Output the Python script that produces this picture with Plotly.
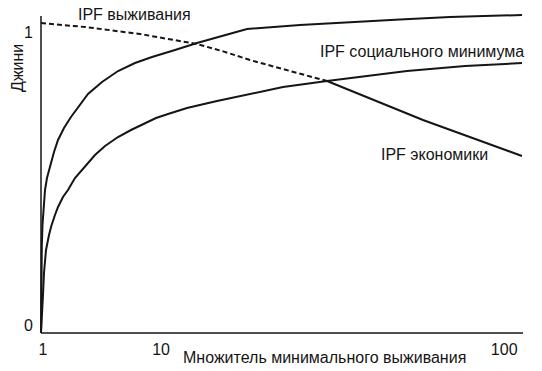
import plotly.graph_objects as go

# Horizontal position along the axis (0 = "1" tick, 1 = right end) and Gini value
econ_x = [0, 0.0004, 0.0008, 0.0017, 0.0031, 0.0052, 0.0083, 0.0124, 0.0187, 0.0270, 0.0353, 0.0477,
          0.0622, 0.0768, 0.0975, 0.1266, 0.1598, 0.1950, 0.2303, 0.2780, 0.3237, 0.3755, 0.4274,
          0.5373, 0.6411, 0.7448, 0.8485, 0.9979]
econ_y = [0, 0.1126, 0.2150, 0.3003, 0.3686, 0.4369, 0.4881, 0.5290, 0.5700, 0.6177, 0.6587, 0.6997,
          0.7372, 0.7713, 0.8157, 0.8567, 0.8942, 0.9215, 0.9420, 0.9659, 0.9898, 1.0137, 1.0375,
          1.0512, 1.0614, 1.0700, 1.0785, 1.0853]

social_x = [0, 0.0010, 0.0021, 0.0041, 0.0062, 0.0104, 0.0166, 0.0214, 0.0290, 0.0353, 0.0456, 0.0560,
            0.0705, 0.0913, 0.1120, 0.1328, 0.1598, 0.1867, 0.2116, 0.2386, 0.2635, 0.3029, 0.3651,
            0.4398, 0.5021, 0.5934, 0.6618, 0.7593, 0.8797, 0.9979]
social_y = [0, 0.0444, 0.0683, 0.1297, 0.2048, 0.2833, 0.3345, 0.3652, 0.4027, 0.4300, 0.4642, 0.4881,
            0.5290, 0.5700, 0.6075, 0.6382, 0.6689, 0.6928, 0.7133, 0.7338, 0.7474, 0.7679, 0.7918,
            0.8191, 0.8396, 0.8601, 0.8737, 0.8942, 0.9113, 0.9215]

surv_dash_x = [0, 0.0913, 0.2054, 0.3237, 0.3755, 0.4336, 0.5166, 0.5934]
surv_dash_y = [1.0580, 1.0444, 1.0205, 0.9863, 0.9625, 0.9317, 0.8942, 0.8601]
surv_solid_x = [0.5934, 0.7925, 0.9979]
surv_solid_y = [0.8601, 0.7270, 0.6041]

x_tick_vals = [0.004, 0.249, 0.961]
x_tick_text = ["1", "10", "100"]
y_tick_vals = [0, 1]
y_tick_text = ["0", "1"]

FONT = "Liberation Sans, Arial, sans-serif"
INK = "#151515"
line = dict(color=INK, width=2)

fig = go.Figure()
fig.add_trace(go.Scatter(x=econ_x, y=econ_y, mode="lines", line=line, hoverinfo="skip"))
fig.add_trace(go.Scatter(x=social_x, y=social_y, mode="lines", line=line, hoverinfo="skip"))
fig.add_trace(go.Scatter(x=surv_dash_x, y=surv_dash_y, mode="lines", hoverinfo="skip",
                         line=dict(dash="5px,3px", color=INK, width=2)))
fig.add_trace(go.Scatter(x=surv_solid_x, y=surv_solid_y, mode="lines", line=line, hoverinfo="skip"))

ann_font = dict(size=16, color=INK, family=FONT)

fig.update_layout(
    width=542, height=371,
    margin=dict(l=37, r=19, t=12, b=34),
    paper_bgcolor="white", plot_bgcolor="white",
    showlegend=False,
    font=dict(family=FONT, size=16, color=INK),
    xaxis=dict(range=[-0.0083, 1.0], showgrid=False, zeroline=False, showline=False,
               tickvals=x_tick_vals, ticktext=x_tick_text, ticks="", ticklabelstandoff=1),
    yaxis=dict(range=[-0.0137, 1.0956], showgrid=False, zeroline=False, showline=False,
               tickvals=y_tick_vals, ticktext=y_tick_text, ticks="", ticklabelshift=-8,
               ticklabelstandoff=3),
    shapes=[
        dict(type="line", xref="x", yref="y", x0=0, x1=1.0, y0=0, y1=0, layer="above",
             line=dict(color=INK, width=1.5)),
        dict(type="line", xref="x", yref="y", x0=0, x1=0, y0=0, y1=1.082, layer="above",
             line=dict(color=INK, width=1.5)),
    ],
    annotations=[
        dict(text="IPF выживания", xref="paper", yref="paper", x=0.2016, y=0.9908,
             xanchor="center", yanchor="middle", showarrow=False, font=ann_font),
        dict(text="IPF социального минимума", xref="paper", yref="paper", x=0.792, y=0.877,
             xanchor="center", yanchor="middle", showarrow=False, font=ann_font),
        dict(text="IPF экономики", xref="paper", yref="paper", x=0.817, y=0.560,
             xanchor="center", yanchor="middle", showarrow=False, font=ann_font),
        dict(text="Множитель минимального выживания", xref="paper", yref="paper", x=0.591, y=-0.0646,
             xanchor="center", yanchor="middle", showarrow=False, font=ann_font),
        dict(text="Джини", xref="paper", yref="paper", x=-0.039, y=0.828, textangle=-90,
             xanchor="center", yanchor="middle", showarrow=False, font=ann_font),
    ],
)

fig.write_html("out.html", config={"displayModeBar": False},
               post_script="document.body.style.margin='0';document.body.style.padding='0';")
